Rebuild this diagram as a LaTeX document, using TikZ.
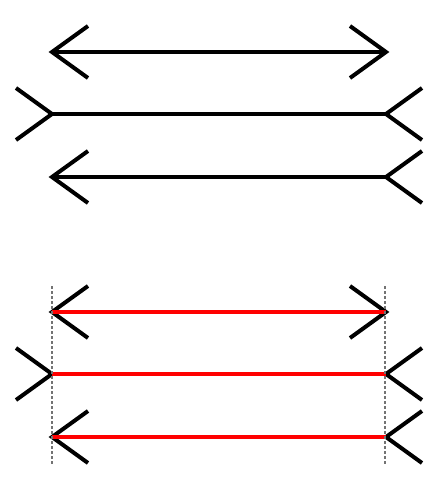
\documentclass[tikz,border=0pt]{standalone}
\begin{document}
\begin{tikzpicture}[x=1pt,y=-1pt,
  fin/.style={line width=4pt,black,line join=miter},
  shaft/.style={line width=4pt,black},
  redshaft/.style={line width=4pt,red},
  guide/.style={line width=1.1pt,gray!90!black,dash pattern=on 3pt off 2pt}]
\useasboundingbox (0,0) rectangle (437,479);
% top group
\draw[shaft] (52,52) -- (386,52);
\draw[fin] (88,26) -- (52,52) -- (88,78);
\draw[fin] (350,26) -- (386,52) -- (350,78);
\draw[shaft] (52,114) -- (386,114);
\draw[fin] (16,88) -- (52,114) -- (16,140);
\draw[fin] (422,88) -- (386,114) -- (422,140);
\draw[shaft] (52,177) -- (386,177);
\draw[fin] (88,151) -- (52,177) -- (88,203);
\draw[fin] (422,151) -- (386,177) -- (422,203);
% bottom group
\draw[fin] (88,286) -- (52,312) -- (88,338);
\draw[fin] (350,286) -- (386,312) -- (350,338);
\draw[fin] (16,348) -- (52,374) -- (16,400);
\draw[fin] (422,348) -- (386,374) -- (422,400);
\draw[fin] (88,411) -- (52,437) -- (88,463);
\draw[fin] (422,411) -- (386,437) -- (422,463);
\draw[redshaft] (52,312) -- (386,312);
\draw[redshaft] (52,374) -- (386,374);
\draw[redshaft] (52,437) -- (386,437);
\draw[guide] (52,286) -- (52,464);
\draw[guide] (385,286) -- (385,464);
\end{tikzpicture}
\end{document}
